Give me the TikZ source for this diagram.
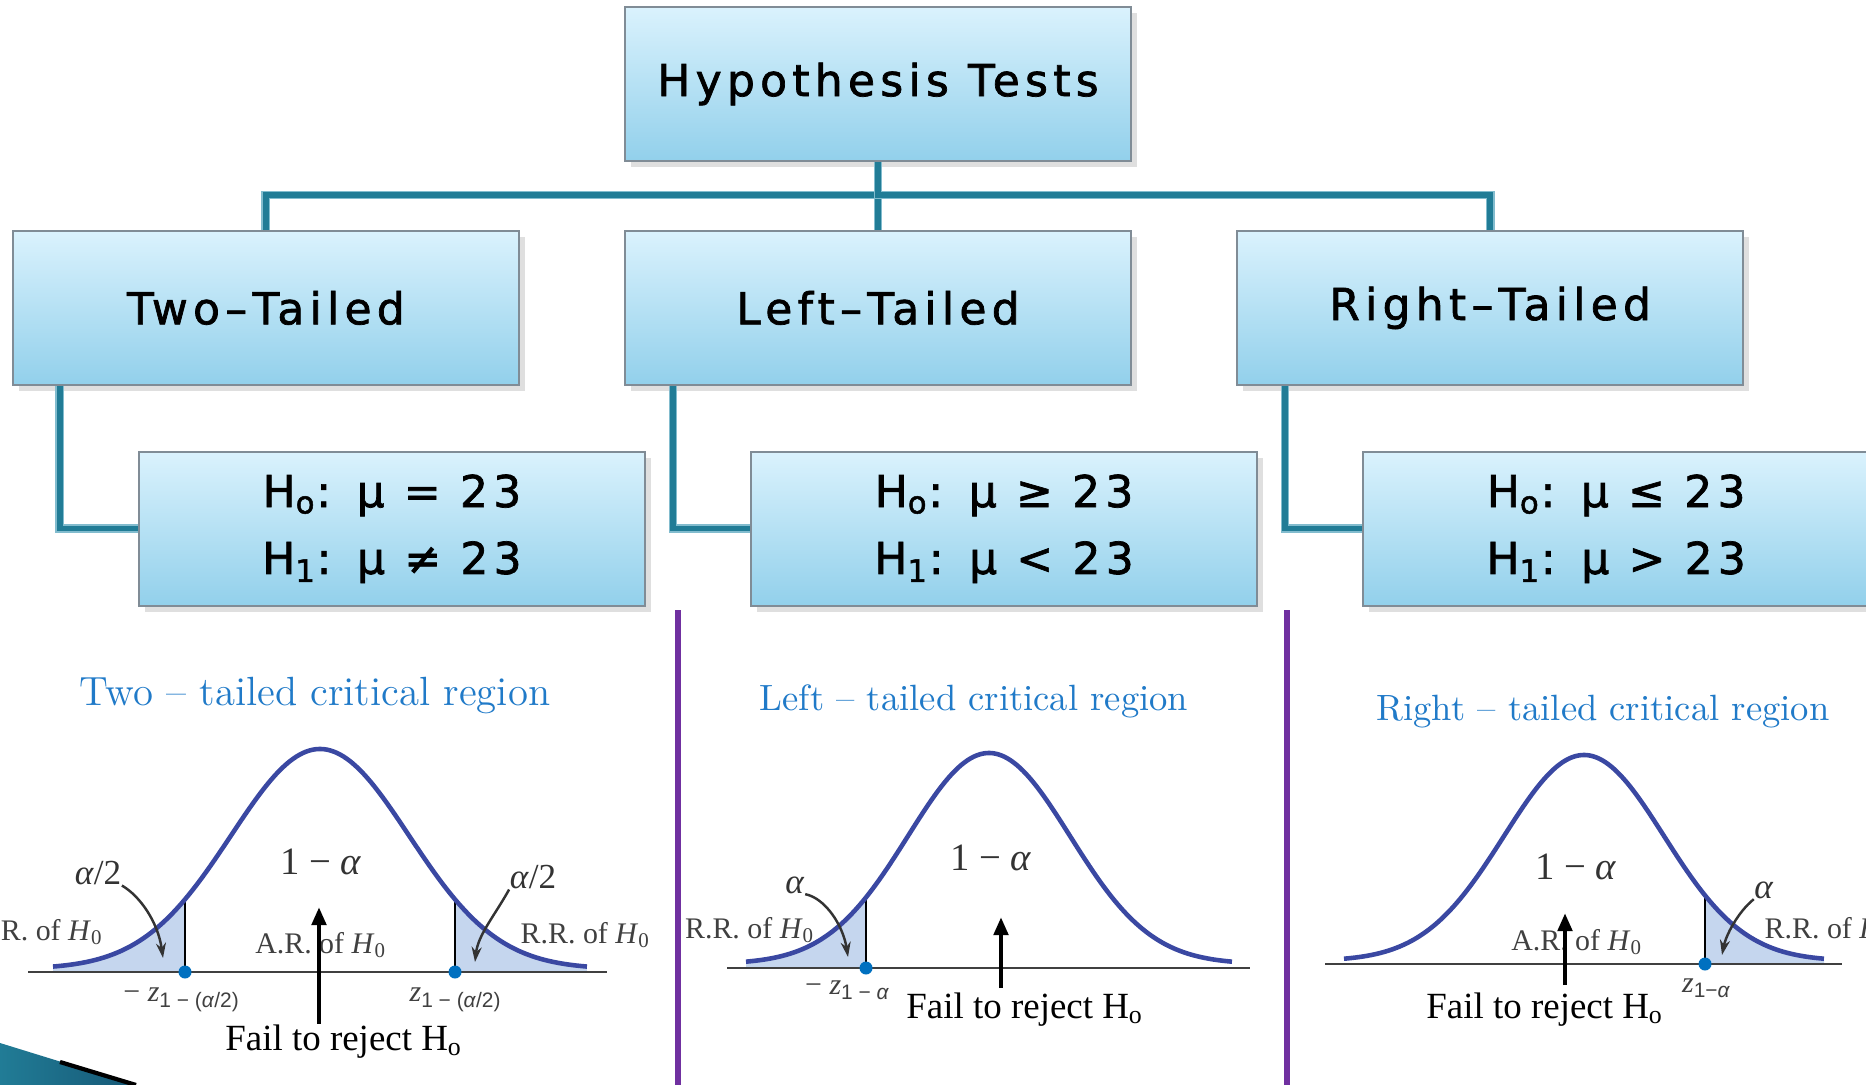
\documentclass[tikz,border=0pt]{standalone}
\usepackage{fontspec}
\usepackage{tikz}
\usetikzlibrary{arrows.meta,positioning,shadows,calc}
\newfontfamily\boxfont[LetterSpace=12,FakeBold=1.6]{DejaVu Sans}
\newfontfamily\figfont{Liberation Serif}
\newfontfamily\figsans{Liberation Sans}
\definecolor{HtBoxTop}{RGB}{218,242,253}
\definecolor{HtBoxBot}{RGB}{146,208,235}
\definecolor{HtEdge}{RGB}{128,140,150}
\definecolor{HtTeal}{RGB}{33,124,150}
\definecolor{HtTealLight}{RGB}{130,188,206}
\definecolor{HtPurple}{RGB}{112,48,160}
\definecolor{HtCurve}{RGB}{58,72,162}
\definecolor{HtTail}{RGB}{197,214,238}
\definecolor{HtDot}{RGB}{0,112,192}
\definecolor{HtTitle}{RGB}{32,122,200}
\definecolor{HtSwoosh}{RGB}{22,88,118}
\tikzset{
  box/.style={rectangle, draw=HtEdge, line width=0.5pt, top color=HtBoxTop, bottom color=HtBoxBot,
    minimum width=5.06cm, minimum height=1.54cm, inner sep=0pt, align=center,
    font=\boxfont\fontsize{12.5}{19}\selectfont,
    drop shadow={opacity=0.25, shadow xshift=0.6mm, shadow yshift=-0.6mm}},
  link/.style={draw=HtTealLight, line width=0.5pt, double=HtTeal, double distance=1.5pt},
  bell/.style={draw=HtCurve, line width=1.3pt},
  tail/.style={fill=HtTail},
  cut/.style={draw=black, line width=0.4pt},
  critdot/.style={circle, fill=HtDot, inner sep=0pt, minimum size=0.13cm},
  axisline/.style={draw=black!75, line width=0.6pt},
  sepbar/.style={draw=HtPurple, line width=1.8pt},
  regtitle/.style={text=HtTitle, anchor=base, inner sep=0pt},
  fignum/.style={font=\figfont\fontsize{11}{13}\selectfont, inner sep=0pt, text=black!80},
  figalpha/.style={font=\figfont\fontsize{10}{12}\selectfont, inner sep=0pt, text=black!80},
  figregion/.style={font=\figfont\fontsize{8.5}{10}\selectfont, inner sep=0pt, text=black!75},
  failtext/.style={font=\figfont\fontsize{10.5}{12}\selectfont, inner sep=0pt, anchor=base},
  uparrow/.style={-{Triangle[length=0.18cm, width=0.14cm]}, line width=1.3pt},
  pointer/.style={-{Stealth[length=0.15cm, width=0.1cm]}, line width=0.7pt, draw=black!80}
}

\begin{document}
\begin{tikzpicture}[x=0.01cm, y=-0.01cm, node distance=0.68cm and 1.04cm]
  \useasboundingbox (0,0) rectangle (1866,1085);
  \node[box] (tests) at (878,84) {Hypothesis Tests};
  \node[box, below=of tests] (left) {Left–Tailed};
  \node[box, left=of left] (two) {Two–Tailed};
  \node[box, right=of left] (right) {Right–Tailed};
  \node[box, below=0.65cm of two, xshift=1.26cm] (htwo) {H\textsubscript{o}: μ = 23\\H\textsubscript{1}: μ ≠ 23};
  \node[box, below=0.65cm of left, xshift=1.26cm] (hleft) {H\textsubscript{o}: μ ≥ 23\\H\textsubscript{1}: μ < 23};
  \node[box, below=0.65cm of right, xshift=1.26cm] (hright) {H\textsubscript{o}: μ ≤ 23\\H\textsubscript{1}: μ > 23};
  \draw[link] (tests.south) -- (left.north);
  \draw[link] (tests.south) -- ++(0,33) -| (two.north);
  \draw[link] (tests.south) -- ++(0,33) -| (right.north);
  \draw[link] ([shift={(48,0)}]two.south west) |- (htwo.west);
  \draw[link] ([shift={(49,0)}]left.south west) |- (hleft.west);
  \draw[link] ([shift={(49,0)}]right.south west) |- (hright.west);
  \draw[sepbar] (678,610) -- (678,1085);
  \draw[sepbar] (1287,610) -- (1287,1085);
  \shade[left color=HtTeal, right color=HtSwoosh] (0,1043) -- (136,1085) -- (0,1085) -- cycle;
  \draw[black, line width=1.2pt] (60,1062) -- (136,1085);

  % two-tailed
  \node[regtitle, font=\fontsize{11.6}{14}\selectfont] (ttl2) at (315,705) {Two – tailed critical region};
  \fill[tail] (53,972) -- plot[domain=-3:-1.52, samples=30] ({320+89*\x},{969-220*exp(-0.5*(\x)*(\x))}) -- (185,972) -- cycle;
  \fill[tail] (455,972) -- plot[domain=1.52:3, samples=30] ({320+89*\x},{969-220*exp(-0.5*(\x)*(\x))}) -- (587,972) -- cycle;
  \draw[axisline] (28,972) -- (607,972);
  \draw[cut] (185,972) -- (185,900);
  \draw[cut] (455,972) -- (455,900);
  \draw[bell] plot[domain=-3:3, samples=80, smooth] ({320+89*\x},{969-220*exp(-0.5*(\x)*(\x))});
  \node[critdot] (zl2) at (185,972) {};
  \node[critdot] (zr2) at (455,972) {};
  \node[fignum] (one2) at (321,862) {1 − \textit{α}};
  \node[figalpha] (al2l) at (98,873) {\textit{α}/2};
  \node[figalpha] (al2r) at (533,877) {\textit{α}/2};
  \node[figregion, anchor=east] (rr2l) at (104,932) {R.R. of \textit{H}\textsubscript{0}};
  \node[figregion, anchor=west] (rr2r) at (520,935) {R.R. of \textit{H}\textsubscript{0}};
  \node[figregion] (ar2) at (321,945) {A.R. of \textit{H}\textsubscript{0}};
  \node[figregion] (z2l) at (182,1000) {− \textit{z}\textsubscript{\figsans 1 − (\textit{α}/2)}};
  \node[figregion] (z2r) at (456,1000) {\textit{z}\textsubscript{\figsans 1 − (\textit{α}/2)}};
  \node[failtext] (fail2) at (344,1050) {Fail to reject H\textsubscript{o}};
  \coordinate (p2l) at (163,958);
  \coordinate (p2r) at (475,962);
  \coordinate (up2) at (319,907);
  \draw[pointer] (al2l.south east) .. controls (140,896) and (158,922) .. (p2l);
  \draw[pointer] (al2r.south west) .. controls (495,915) and (478,935) .. (p2r);
  \draw[uparrow] (fail2.north -| up2) -- (up2);

  % left-tailed
  \node[regtitle, font=\fontsize{10.4}{13}\selectfont] (ttl3) at (974,710) {Left – tailed critical region};
  \fill[tail] (746,968) -- plot[domain=-3:-1.52, samples=30] ({989+81*\x},{964-211*exp(-0.5*(\x)*(\x))}) -- (866,968) -- cycle;
  \draw[axisline] (727,968) -- (1250,968);
  \draw[cut] (866,968) -- (866,897);
  \draw[bell] plot[domain=-3:3, samples=80, smooth] ({989+81*\x},{964-211*exp(-0.5*(\x)*(\x))});
  \node[critdot] (zl3) at (866,968) {};
  \node[fignum] (one3) at (991,858) {1 − \textit{α}};
  \node[figalpha] (al3) at (795,885) {\textit{α}};
  \node[figregion] (rr3) at (750,930) {R.R. of \textit{H}\textsubscript{0}};
  \node[figregion] (z3) at (848,990) {− \textit{z}\textsubscript{\figsans 1 − \textit{α}}};
  \node[failtext] (fail3) at (1025,1018) {Fail to reject H\textsubscript{o}};
  \coordinate (p3) at (848,957);
  \coordinate (up3) at (1001,917);
  \draw[pointer] (al3.south east) .. controls (825,898) and (843,925) .. (p3);
  \draw[uparrow] (1001,988) -- (up3);

  % right-tailed
  \node[regtitle, font=\fontsize{10.4}{13}\selectfont] (ttl4) at (1603,720) {Right – tailed critical region};
  \fill[tail] (1704,964) -- plot[domain=1.52:3, samples=30] ({1584+80*\x},{961-206*exp(-0.5*(\x)*(\x))}) -- (1824,964) -- cycle;
  \draw[axisline] (1325,964) -- (1842,964);
  \draw[cut] (1705,964) -- (1705,896);
  \draw[bell] plot[domain=-3:3, samples=80, smooth] ({1584+80*\x},{961-206*exp(-0.5*(\x)*(\x))});
  \node[critdot] (zr4) at (1705,964) {};
  \node[fignum] (one4) at (1576,867) {1 − \textit{α}};
  \node[figalpha] (al4) at (1764,890) {\textit{α}};
  \node[figregion, anchor=west] (rr4) at (1764,930) {R.R. of \textit{H}\textsubscript{0}};
  \node[figregion] (ar4) at (1577,942) {A.R. of \textit{H}\textsubscript{0}};
  \node[figregion] (z4) at (1707,988) {\textit{z}\textsubscript{\figsans 1−\textit{α}}};
  \node[failtext] (fail4) at (1545,1018) {Fail to reject H\textsubscript{o}};
  \coordinate (p4) at (1722,955);
  \coordinate (up4) at (1565,913);
  \draw[pointer] (al4.south west) .. controls (1738,912) and (1726,935) .. (p4);
  \draw[uparrow] (1565,985) -- (up4);
\end{tikzpicture}
\end{document}
